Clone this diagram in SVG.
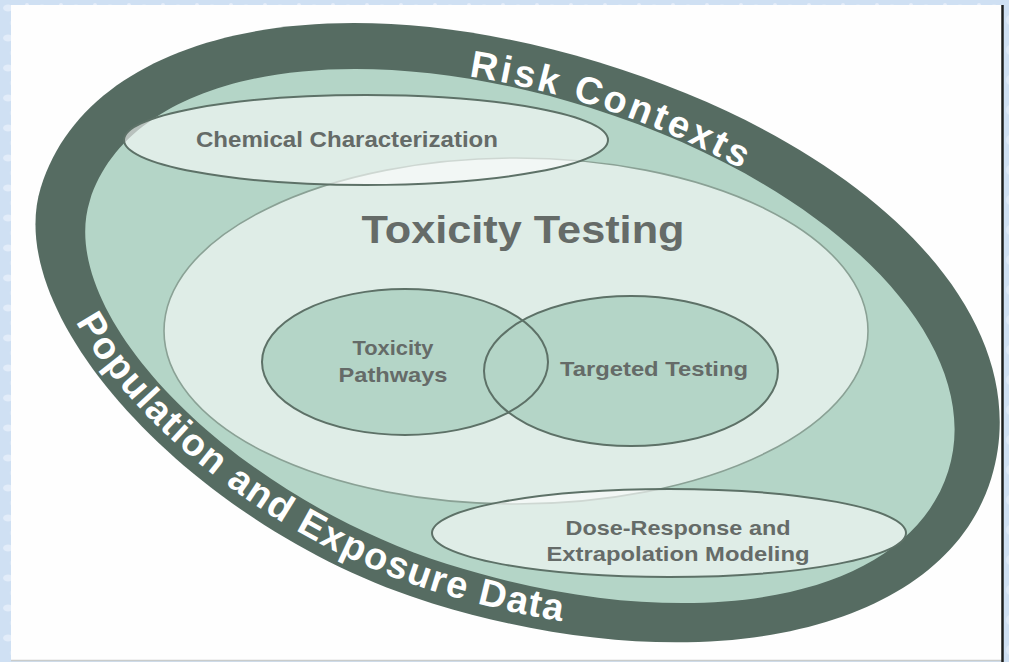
<svg xmlns="http://www.w3.org/2000/svg" width="1009" height="662" viewBox="0 0 1009 662">
  <defs>
    <!-- frosted blue backdrop -->
    <pattern id="frost" width="34" height="30" patternUnits="userSpaceOnUse">
      <rect width="34" height="30" fill="#cfe0f3"/>
      <ellipse cx="8" cy="8" rx="5" ry="3.5" fill="#e2ecf9"/>
      <ellipse cx="24" cy="20" rx="4" ry="5" fill="#dde9f7"/>
      <circle cx="27" cy="5" r="2" fill="#e6eefa"/>
      <circle cx="12" cy="23" r="2.4" fill="#d7e5f5"/>
    </pattern>
    <!-- caption baselines, each in its ring's own rotated frame -->
    <path id="arc-top" d="M -453 0 A 453 242 0 0 1 453 0"/>
    <path id="arc-bottom" d="M -485 0 C -485 132.8 -237.7 271 0 271 C 276.5 271 485 154.5 485 0"/>
  </defs>
  <style>
    .lbl { font-family: "Liberation Sans", Arial, sans-serif; font-weight: bold; fill: #656b68; text-anchor: middle; }
    .ring-lbl { font-family: "Liberation Sans", Arial, sans-serif; font-weight: bold; fill: #ffffff; font-size: 38px; }
    .veil { fill: #ffffff; fill-opacity: 0.58; }
    .edge { fill: none; stroke: #5d7167; stroke-width: 2; }
    .edge-soft { fill: none; stroke: #8aa195; stroke-width: 1.6; }
    .core { fill: #b4d5c7; }
  </style>

  <!-- page -->
  <rect width="1009" height="662" fill="url(#frost)"/>
  <rect x="11" y="5" width="991" height="656" fill="#fefefe"/>
  <line x1="11" y1="660.5" x2="1002" y2="660.5" stroke="#c9cccb" stroke-width="1.5"/>
  <line x1="1002.5" y1="5" x2="1002.5" y2="662" stroke="#1d1f1e" stroke-width="2.5"/>

  <!-- outer ring: risk contexts / population and exposure data -->
  <g id="node-risk-contexts">
    <path transform="translate(516 333) rotate(17)" fill="#566c62"
          d="M 497 0 C 497 161.3 283.3 283 0 283 C -243.5 283 -497 138.7 -497 0 C -497 -162.7 -285.8 -283 0 -283 C 290.7 -283 497 -165.6 497 0 Z"/>
    <path transform="translate(519 336) rotate(17.5)" fill="#b4d5c7"
          d="M 450 0 C 450 136.2 256.5 239 0 239 C -225 239 -450 119.5 -450 0 C -450 -136.2 -256.5 -239 0 -239 C 254.3 -239 450 -135 450 0 Z"/>
    <g transform="translate(519 336) rotate(17.5)">
      <text class="ring-lbl" letter-spacing="3" text-anchor="middle"><textPath href="#arc-top" startOffset="578">Risk Contexts</textPath></text>
    </g>
  </g>
  <g id="node-population-exposure">
    <g transform="translate(516 333) rotate(17)">
      <text class="ring-lbl" letter-spacing="1.4"><textPath href="#arc-bottom" startOffset="136">Population and Exposure Data</textPath></text>
    </g>
  </g>

  <!-- toxicity testing -->
  <g id="node-toxicity-testing">
    <ellipse class="veil" cx="516" cy="331" rx="352" ry="173"/>
    <ellipse class="edge-soft" cx="516" cy="331" rx="352" ry="173"/>
    <text class="lbl" x="523" y="243" font-size="39" fill="#5e6864" textLength="323" lengthAdjust="spacingAndGlyphs">Toxicity Testing</text>
  </g>

  <!-- chemical characterization -->
  <g id="node-chemical-characterization">
    <ellipse class="veil" cx="366" cy="140" rx="242" ry="45"/>
    <ellipse class="edge" cx="366" cy="140" rx="242" ry="45" stroke="#6c8176"/>
    <text class="lbl" x="347" y="147" font-size="22" textLength="302" lengthAdjust="spacingAndGlyphs">Chemical Characterization</text>
  </g>

  <!-- dose-response and extrapolation modeling -->
  <g id="node-dose-response">
    <ellipse class="veil" cx="669" cy="533" rx="237" ry="44"/>
    <ellipse class="edge" cx="669" cy="533" rx="237" ry="44" stroke="#6c8176"/>
    <text class="lbl" x="678" y="535" font-size="21" textLength="225" lengthAdjust="spacingAndGlyphs">Dose-Response and</text>
    <text class="lbl" x="678" y="561" font-size="21" textLength="263" lengthAdjust="spacingAndGlyphs">Extrapolation Modeling</text>
  </g>

  <!-- toxicity pathways -->
  <g id="node-toxicity-pathways">
    <ellipse class="core" cx="405" cy="362" rx="143" ry="73"/>
    <text class="lbl" x="393" y="355" font-size="21" textLength="81" lengthAdjust="spacingAndGlyphs">Toxicity</text>
    <text class="lbl" x="393" y="382" font-size="21" textLength="109" lengthAdjust="spacingAndGlyphs">Pathways</text>
  </g>

  <!-- targeted testing -->
  <g id="node-targeted-testing">
    <ellipse class="core" cx="631" cy="371" rx="147" ry="75"/>
    <text class="lbl" x="654" y="376" font-size="21" textLength="188" lengthAdjust="spacingAndGlyphs">Targeted Testing</text>
  </g>

  <!-- outlines of the two overlapping cores, drawn over both fills -->
  <g id="core-outlines">
    <ellipse class="edge" cx="405" cy="362" rx="143" ry="73"/>
    <ellipse class="edge" cx="631" cy="371" rx="147" ry="75"/>
  </g>
</svg>
